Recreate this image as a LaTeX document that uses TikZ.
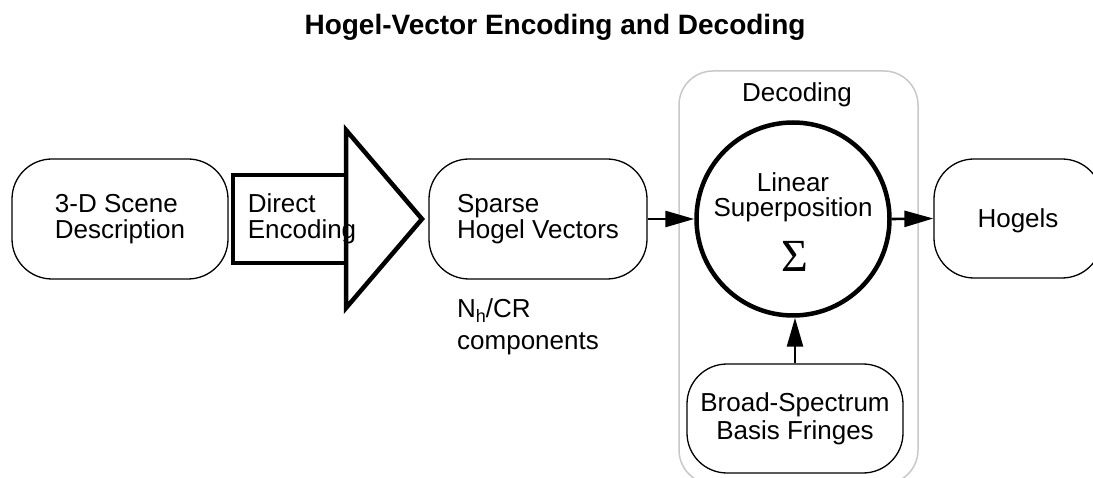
\documentclass[tikz,border=0pt]{standalone}
\usepackage{fontspec}
\setmainfont{Liberation Sans}
\newfontfamily\sigmafont{Liberation Serif}
\usetikzlibrary{arrows.meta}
\definecolor{groupgray}{RGB}{200,200,200}
\tikzset{
  body/.style={font=\fontsize{26}{26}\selectfont},
  roundbox/.style={body, draw=black, line width=1.3pt, rectangle,
    rounded corners=40pt, inner sep=0pt},
  heavy/.style={draw=black, line width=4.5pt, line join=miter},
  flow/.style={draw=black, line width=2.6pt,
    -{Triangle[length=29pt,width=16pt]}},
  plain/.style={body, inner sep=0pt},
}
\begin{document}
\begin{tikzpicture}[x=1pt, y=-1pt]
  \useasboundingbox (0,0) rectangle (1093,478);
  \clip (0,0) rectangle (1093,478);

  % title
  \node[anchor=base, inner sep=0pt, font=\fontsize{28}{28}\selectfont\bfseries]
    (title) at (555,35) {Hogel-Vector Encoding and Decoding};

  % decoding group frame
  \draw[groupgray, line width=1.5pt, rounded corners=34pt]
    (679,71) rectangle (918,484);
  \node[plain, anchor=base] (declabel) at (797,102) {Decoding};

  % boxes
  \node[roundbox, minimum width=216pt, minimum height=120pt, align=left]
    (scene) at (120,219) {3-D Scene\\Description};
  \node[roundbox, minimum width=218pt, minimum height=120pt, align=left]
    (sparse) at (538,219) {Sparse\\Hogel Vectors};
  \node[roundbox, minimum width=168pt, minimum height=119pt, text depth=0pt]
    (hogels) at (1018,218.5) {Hogels};
  \node[roundbox, minimum width=216pt, minimum height=109pt, align=center]
    (broad) at (795,418.5) {Broad-Spectrum\\[2pt]Basis Fringes};

  % direct encoding block arrow
  \draw[heavy] (233,175) rectangle (346,263);
  \draw[heavy] (346,130) -- (422,219) -- (346,308) -- cycle;
  \node[plain, align=left] (enc) at (302,218.5) {Direct\\Encoding};

  % component count
  \node[plain, anchor=base west] (nh) at (457,318)
    {N\raisebox{-5pt}{\fontsize{18}{18}\selectfont h}/CR};
  \node[plain, anchor=base west] (comp) at (457,350) {components};

  % summing circle
  \node[circle, draw=black, line width=4.5pt, minimum size=193pt, inner sep=0pt]
    (sum) at (793,219) {};
  \node[plain, anchor=base] (lin) at (793,192) {Linear};
  \node[plain, anchor=base] (sup) at (793,217) {Superposition};
  \node[anchor=base, inner sep=0pt, font=\fontsize{46}{46}\sigmafont]
    (sigma) at (795,272) {Σ};

  % connectors
  \draw[flow] (sparse.east) -- (sum.west);
  \draw[flow] (sum.east) -- (hogels.west);
  \draw[flow] (broad.north) -- (broad.north |- sum.south);
\end{tikzpicture}
\end{document}
